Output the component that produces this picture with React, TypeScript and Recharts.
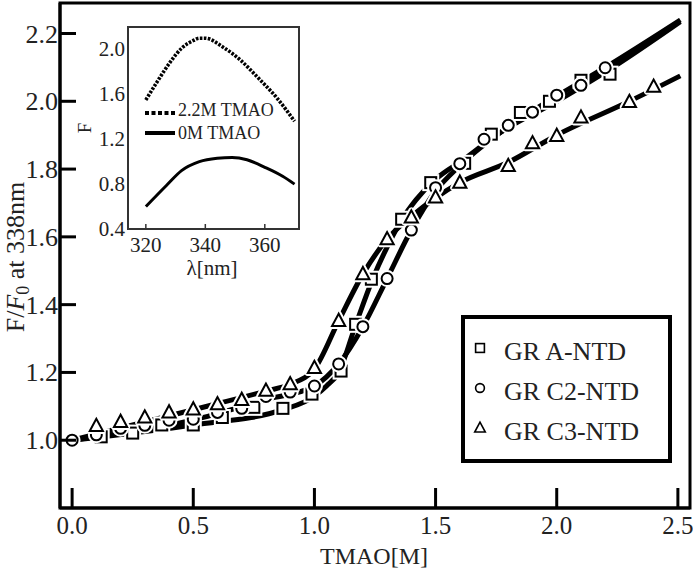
import React from 'react'
import { ComposedChart, Line, Scatter, XAxis, YAxis, ReferenceArea, Legend } from 'recharts'

const SERIF = "'Liberation Serif', 'Times New Roman', Times, serif"

// main panel: F/F0 at 338nm vs TMAO concentration
const aX = [0.12, 0.25, 0.37, 0.5, 0.62, 0.75, 0.87, 0.99, 1.11, 1.17, 1.235, 1.36, 1.48, 1.62, 1.73, 1.85, 1.97, 2.1, 2.22]
const aY = [1.01, 1.021, 1.045, 1.045, 1.067, 1.097, 1.094, 1.136, 1.204, 1.342, 1.475, 1.652, 1.76, 1.817, 1.903, 1.967, 2.0, 2.062, 2.08]

const c2X = [0, 0.1, 0.2, 0.3, 0.4, 0.5, 0.6, 0.7, 0.8, 0.9, 1.0, 1.1, 1.2, 1.3, 1.4, 1.5, 1.6, 1.7, 1.8, 1.9, 2.0, 2.1, 2.2]
const c2Y = [1.0, 1.016, 1.035, 1.044, 1.059, 1.062, 1.082, 1.094, 1.129, 1.142, 1.16, 1.225, 1.335, 1.477, 1.62, 1.745, 1.816, 1.888, 1.929, 1.968, 2.018, 2.047, 2.099]

const c3X = [0.1, 0.2, 0.3, 0.4, 0.5, 0.6, 0.7, 0.8, 0.9, 1.0, 1.1, 1.2, 1.3, 1.4, 1.5, 1.6, 1.8, 1.9, 2.0, 2.1, 2.3, 2.4]
const c3Y = [1.042, 1.054, 1.067, 1.082, 1.091, 1.106, 1.119, 1.146, 1.165, 1.213, 1.352, 1.49, 1.593, 1.657, 1.716, 1.76, 1.809, 1.876, 1.898, 1.952, 1.998, 2.043]

// fitted curves
const fitAX = [0, 0.5, 0.87, 1.0, 1.05, 1.1, 1.17, 1.24, 1.3, 1.36, 1.42, 1.5, 1.62, 1.75, 2.0, 2.22, 2.51]
const fitAY = [1.0, 1.045, 1.09, 1.13, 1.16, 1.2, 1.34, 1.475, 1.57, 1.65, 1.71, 1.77, 1.83, 1.9, 2.0, 2.095, 2.235]
const fitC2X = [0, 0.5, 0.8, 1.0, 1.1, 1.2, 1.3, 1.4, 1.5, 1.6, 1.8, 2.0, 2.2, 2.51]
const fitC2Y = [1.0, 1.06, 1.12, 1.16, 1.225, 1.335, 1.477, 1.62, 1.735, 1.81, 1.925, 2.015, 2.1, 2.24]
const fitC3X = [0, 0.5, 0.8, 0.9, 1.0, 1.1, 1.2, 1.3, 1.4, 1.5, 1.6, 1.8, 2.0, 2.3, 2.51]
const fitC3Y = [1.0, 1.09, 1.145, 1.165, 1.21, 1.352, 1.49, 1.593, 1.66, 1.715, 1.76, 1.82, 1.9, 2.0, 2.075]

const xTicks = [0, 0.5, 1.0, 1.5, 2.0, 2.5]
const yTicks = [1.0, 1.2, 1.4, 1.6, 1.8, 2.0, 2.2]

// inset: emission spectra
const specX = [320, 324, 328, 332, 336, 338, 340, 346, 352, 358, 364, 370]
const spec22 = [1.55, 1.72, 1.88, 2.01, 2.08, 2.1, 2.1, 2.02, 1.9, 1.74, 1.57, 1.36]
const spec0X = [320, 327, 332, 338, 344, 349, 354, 360, 366, 370]
const spec0 = [0.6, 0.79, 0.92, 1.0, 1.03, 1.037, 1.017, 0.95, 0.87, 0.8]
const insetXTicks = [320, 340, 360]
const insetYTicks = [0.4, 0.8, 1.2, 1.6, 2.0]

const pts = (xs: number[], ys: number[]) => xs.map((x, i) => ({ x, y: ys[i] }))

const font = (size: number) => ({ fontFamily: SERIF, fontSize: size })

const SquareMark = (p: any) => (
  <g>
    <rect x={p.cx - 5.5} y={p.cy - 5.5} width={11} height={11} fill="#fff" stroke="#fff" strokeWidth={6} />
    <rect x={p.cx - 5.5} y={p.cy - 5.5} width={11} height={11} fill="#fff" stroke="#000" strokeWidth={2} />
  </g>
)
const CircleMark = (p: any) => (
  <g>
    <circle cx={p.cx} cy={p.cy} r={5.5} fill="#fff" stroke="#fff" strokeWidth={6} />
    <circle cx={p.cx} cy={p.cy} r={5.5} fill="#fff" stroke="#000" strokeWidth={2} />
  </g>
)
const triPts = (cx: number, cy: number, s: number) =>
  `${cx},${cy - s * 0.6} ${cx - s * 0.55},${cy + s * 0.42} ${cx + s * 0.55},${cy + s * 0.42}`
const TriangleMark = (p: any) => (
  <g>
    <polygon points={triPts(p.cx, p.cy, 12)} fill="#fff" stroke="#fff" strokeWidth={6} strokeLinejoin="round" />
    <polygon points={triPts(p.cx, p.cy, 12)} fill="#fff" stroke="#000" strokeWidth={2} />
  </g>
)

function XTick({ x, y, payload }: any) {
  return (
    <g>
      <line x1={x} y1={y} x2={x} y2={y - 20} stroke="#000" strokeWidth={3} />
      <text x={x} y={y + 26} textAnchor="middle" style={font(25)} fill="#222">
        {payload.value.toFixed(1)}
      </text>
    </g>
  )
}

function YTick({ x, y, payload }: any) {
  return (
    <g>
      <line x1={x} y1={y} x2={x + 16} y2={y} stroke="#000" strokeWidth={3} />
      <text x={x - 2} y={y + 9} textAnchor="end" style={font(26)} fill="#222">
        {payload.value.toFixed(1)}
      </text>
    </g>
  )
}

function XLabel() {
  return (
    <text x={374} y={564} textAnchor="middle" style={font(24)} fill="#222">
      TMAO[M]
    </text>
  )
}

function YLabel() {
  return (
    <text x={24} y={257} transform="rotate(-90, 24, 257)" textAnchor="middle" style={font(26)} fill="#222">
      F/<tspan fontStyle="italic">F</tspan>
      <tspan style={font(18)} dy={5}>0</tspan>
      <tspan dy={-5}> at 338nm</tspan>
    </text>
  )
}

function MainLegend() {
  const rows = [
    { label: 'GR A-NTD', Mark: SquareMark },
    { label: 'GR C2-NTD', Mark: CircleMark },
    { label: 'GR C3-NTD', Mark: TriangleMark },
  ]
  return (
    <div style={{ width: 211, height: 148, boxSizing: 'border-box', border: '4px solid #000', background: '#fff' }}>
      <svg width={203} height={140}>
        {rows.map((r, i) => (
          <g key={r.label}>
            <g transform={`translate(15, ${29 + i * 40}) scale(0.8) translate(-15, ${-(29 + i * 40)})`}>
              <r.Mark cx={15} cy={29 + i * 40} />
            </g>
            <text x={39} y={41 + i * 40} style={font(26)} fill="#222">{r.label}</text>
          </g>
        ))}
      </svg>
    </div>
  )
}

function InsetXTick({ x, y, payload }: any) {
  return (
    <g>
      <line x1={x} y1={y} x2={x} y2={y - 5} stroke="#333" strokeWidth={1.5} />
      <text x={x} y={y + 23} textAnchor="middle" style={font(21)} fill="#222">{payload.value}</text>
    </g>
  )
}

function InsetYTick({ x, y, payload }: any) {
  return (
    <text x={x - 3} y={y + 7} textAnchor="end" style={font(21)} fill="#222">
      {payload.value.toFixed(1)}
    </text>
  )
}

function InsetXLabel() {
  return (
    <text x={152} y={275} textAnchor="middle" style={font(21)} fill="#222">λ[nm]</text>
  )
}

function InsetYLabel() {
  return (
    <text x={31} y={128} transform="rotate(-90, 31, 128)" textAnchor="middle" style={font(19)} fill="#222">F</text>
  )
}

function InsetLegend() {
  return (
    <svg width={160} height={45}>
      <line x1={0} y1={13} x2={30} y2={13} stroke="#000" strokeWidth={4} strokeDasharray="4 2.5" />
      <text x={33} y={16} style={font(18)} fill="#222">2.2M TMAO</text>
      <line x1={0} y1={33} x2={30} y2={33} stroke="#000" strokeWidth={4} />
      <text x={33} y={39} style={font(18)} fill="#222">0M TMAO</text>
    </svg>
  )
}

function Inset() {
  return (
    <ComposedChart width={250} height={290} margin={{ top: 27, right: 11, bottom: 0, left: 0 }}>
      <XAxis type="number" dataKey="x" domain={[314, 371.5]} ticks={insetXTicks} interval={0} height={61}
        tickSize={0} tickMargin={0} tickLine={false} axisLine={false} tick={<InsetXTick />} allowDataOverflow
        label={<InsetXLabel />} />
      <YAxis type="number" domain={[0.4, 2.2]} ticks={insetYTicks} interval={0} width={68}
        tickSize={0} tickMargin={0} tickLine={false} axisLine={false} tick={<InsetYTick />} allowDataOverflow
        label={<InsetYLabel />} />
      <ReferenceArea x1={314} x2={371.5} y1={0.4} y2={2.2} fill="none" stroke="#333" strokeWidth={2} ifOverflow="visible" />
      <Line data={pts(specX, spec22)} dataKey="y" type="monotone" stroke="#000" strokeWidth={3.6}
        strokeDasharray="2.6 1.4" dot={false} isAnimationActive={false} />
      <Line data={pts(spec0X, spec0)} dataKey="y" type="monotone" stroke="#000" strokeWidth={3}
        dot={false} isAnimationActive={false} />
      <Legend layout="vertical" align="center" verticalAlign="middle" content={<InsetLegend />}
        wrapperStyle={{ position: 'absolute', left: 85, top: 100, width: 160, height: 45 }} />
    </ComposedChart>
  )
}

export default function App() {
  return (
    <div style={{ position: 'relative', width: 693, height: 572, background: '#fff', fontFamily: SERIF }}>
      <style>{'body{margin:0}'}</style>
      <ComposedChart width={693} height={572} margin={{ top: 3, right: 3, bottom: 0, left: 0 }}>
        <XAxis type="number" dataKey="x" domain={[-0.05, 2.55]} ticks={xTicks} interval={0} height={64}
          tickSize={0} tickMargin={0} tickLine={false} axisLine={{ stroke: '#000', strokeWidth: 3 }}
          tick={<XTick />} allowDataOverflow label={<XLabel />} />
        <YAxis type="number" domain={[0.8, 2.29]} ticks={yTicks} interval={0} width={60}
          tickSize={0} tickMargin={0} tickLine={false} axisLine={{ stroke: '#000', strokeWidth: 3 }}
          tick={<YTick />} allowDataOverflow label={<YLabel />} />
        <ReferenceArea x1={-0.05} x2={2.55} y1={0.8} y2={2.29} fill="none" stroke="#000" strokeWidth={3} ifOverflow="visible" />
        <Line data={pts(fitAX, fitAY)} dataKey="y" type="monotone" stroke="#000" strokeWidth={5} dot={false} isAnimationActive={false} />
        <Line data={pts(fitC2X, fitC2Y)} dataKey="y" type="monotone" stroke="#000" strokeWidth={5} dot={false} isAnimationActive={false} />
        <Line data={pts(fitC3X, fitC3Y)} dataKey="y" type="monotone" stroke="#000" strokeWidth={5} dot={false} isAnimationActive={false} />
        <Scatter data={pts(aX, aY)} dataKey="y" shape={SquareMark} isAnimationActive={false} />
        <Scatter data={pts(c2X, c2Y)} dataKey="y" shape={CircleMark} isAnimationActive={false} />
        <Scatter data={pts(c3X, c3Y)} dataKey="y" shape={TriangleMark} isAnimationActive={false} />
        <Legend layout="vertical" align="center" verticalAlign="middle" content={<MainLegend />}
          wrapperStyle={{ position: 'absolute', left: 461, top: 315, width: 211, height: 148 }} />
      </ComposedChart>
      <div style={{ position: 'absolute', left: 60, top: 0 }}>
        <Inset />
      </div>
    </div>
  )
}
